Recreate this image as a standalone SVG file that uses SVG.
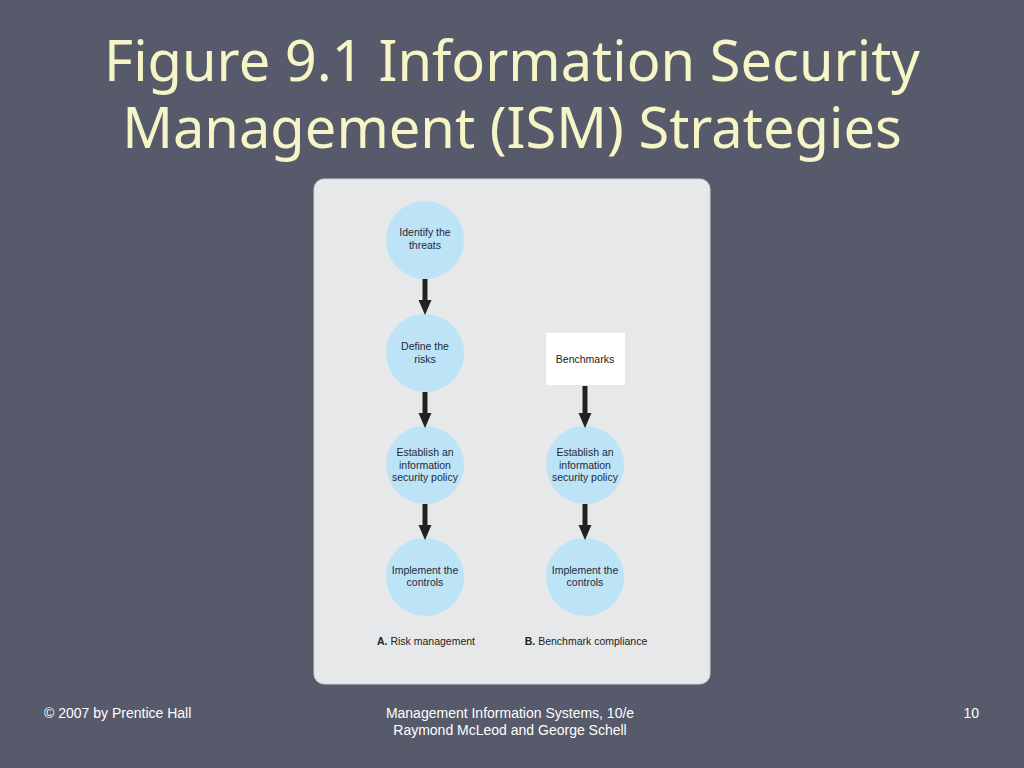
<svg xmlns="http://www.w3.org/2000/svg" width="1024" height="768" viewBox="0 0 1024 768">
<style>
.t{font-family:"Noto Sans","DejaVu Sans",sans-serif;font-size:56px;fill:#f6f5c6;text-anchor:middle}
.f{font-family:"Liberation Sans",Arial,sans-serif;font-size:14px;fill:#ffffff}
.n{fill:#bde3f6}
.l{font-family:"Liberation Sans",Arial,sans-serif;font-size:10.5px;fill:#1e2a3a;text-anchor:middle}
.c{font-family:"Liberation Sans",Arial,sans-serif;font-size:10.5px;fill:#222;text-anchor:middle}
.a{stroke:#222;stroke-width:5}
</style>
<defs>
<marker id="ah" markerWidth="3" markerHeight="3" refX="1.2" refY="1.5" orient="auto" markerUnits="strokeWidth" viewBox="0 0 3 3"><path d="M0,0.2L3,1.5L0,2.8z" fill="#222"/></marker>
</defs>
<rect width="1024" height="768" fill="#565a6b"/>
<text class="t" x="512" y="81">Figure 9.1 Information Security</text>
<text class="t" x="512" y="148">Management (ISM) Strategies</text>
<rect x="314" y="179" width="396" height="505" rx="10" fill="#e6e8e9" stroke="#cfd1d4"/>
<g id="n1"><circle class="n" cx="425" cy="240" r="39"/><text class="l" x="425" y="236">Identify the</text><text class="l" x="425" y="249">threats</text></g>
<g id="n2"><circle class="n" cx="425" cy="353" r="39"/><text class="l" x="425" y="350">Define the</text><text class="l" x="425" y="363">risks</text></g>
<g id="n3"><circle class="n" cx="425" cy="465" r="39"/><text class="l" x="425" y="456">Establish an</text><text class="l" x="425" y="469">information</text><text class="l" x="425" y="481">security policy</text></g>
<g id="n4"><circle class="n" cx="425" cy="577" r="39"/><text class="l" x="425" y="574">Implement the</text><text class="l" x="425" y="586">controls</text></g>
<g id="b1"><rect x="546" y="333" width="79" height="52" fill="#ffffff"/><text class="c" x="585" y="363">Benchmarks</text></g>
<g id="b2"><circle class="n" cx="585" cy="465" r="39"/><text class="l" x="585" y="456">Establish an</text><text class="l" x="585" y="469">information</text><text class="l" x="585" y="481">security policy</text></g>
<g id="b3"><circle class="n" cx="585" cy="577" r="39"/><text class="l" x="585" y="574">Implement the</text><text class="l" x="585" y="586">controls</text></g>
<g id="connectors">
<line class="a" x1="425" y1="279" x2="425" y2="306" marker-end="url(#ah)"/>
<line class="a" x1="425" y1="392" x2="425" y2="419" marker-end="url(#ah)"/>
<line class="a" x1="425" y1="504" x2="425" y2="531" marker-end="url(#ah)"/>
<line class="a" x1="585" y1="386" x2="585" y2="419" marker-end="url(#ah)"/>
<line class="a" x1="585" y1="504" x2="585" y2="531" marker-end="url(#ah)"/>
</g>
<text class="c" x="426" y="645"><tspan font-weight="bold">A.</tspan> Risk management</text>
<text class="c" x="586" y="645"><tspan font-weight="bold">B.</tspan> Benchmark compliance</text>
<text class="f" x="44" y="718">© 2007 by Prentice Hall</text>
<text class="f" x="510" y="718" text-anchor="middle">Management Information Systems, 10/e</text>
<text class="f" x="510" y="735" text-anchor="middle">Raymond McLeod and George Schell</text>
<text class="f" x="979" y="718" text-anchor="end">10</text>
</svg>
